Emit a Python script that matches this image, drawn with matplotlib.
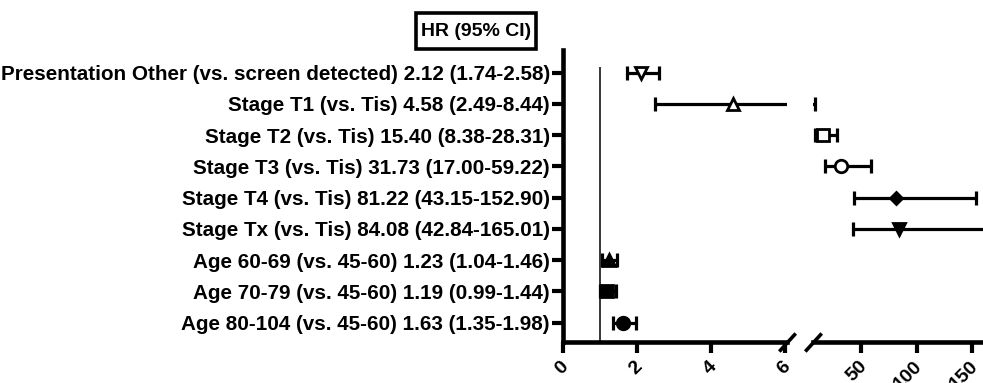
import matplotlib
matplotlib.use("Agg")
import matplotlib.pyplot as plt
import matplotlib.patches as patches
from matplotlib.transforms import ScaledTranslation

plt.rcParams['font.family'] = ['Liberation Sans', 'DejaVu Sans']
plt.rcParams['font.weight'] = 'bold'

# data (top to bottom)
names = [
    "Presentation Other (vs. screen detected)",
    "Stage T1 (vs. Tis)",
    "Stage T2 (vs. Tis)",
    "Stage T3 (vs. Tis)",
    "Stage T4 (vs. Tis)",
    "Stage Tx (vs. Tis)",
    "Age 60-69 (vs. 45-60)",
    "Age 70-79 (vs. 45-60)",
    "Age 80-104 (vs. 45-60)",
]
hr = [2.12, 4.58, 15.40, 31.73, 81.22, 84.08, 1.23, 1.19, 1.63]
ci_low = [1.74, 2.49, 8.38, 17.00, 43.15, 42.84, 1.04, 0.99, 1.35]
ci_high = [2.58, 8.44, 28.31, 59.22, 152.90, 165.01, 1.46, 1.44, 1.98]
markers = ['v', '^', 's', 'o', 'D', 'v', '^', 's', 'o']
filled = [False, False, False, False, True, True, True, True, True]
msizes = [9, 9, 9, 9, 6, 9, 8, 9, 9]

left_ticks = [0, 2, 4, 6]
right_ticks = [50, 100, 150]
left_lim = (0, 6.05)
right_lim = (6.6, 159.6)

labels = [f"{n} {h:.2f} ({l:.2f}-{u:.2f})" for n, h, l, u in zip(names, hr, ci_low, ci_high)]
rows = list(range(len(names)))

W, H = 983, 383
fig = plt.figure(figsize=(W / 100, H / 100), dpi=100)
fig.patch.set_facecolor('white')

bottom = 1 - 341.5 / H
height = (341.5 - 50) / H
ax1 = fig.add_axes([563 / W, bottom, (787 - 563) / W, height])
ax2 = fig.add_axes([813 / W, bottom, 1 - 813 / W, height])

spine_w = 3.3
for ax, lim in ((ax1, left_lim), (ax2, right_lim)):
    ax.set_xlim(*lim)
    for i in rows:
        # whiskers in both panels, clipped by the panel
        ax.errorbar(hr[i], i, xerr=[[hr[i] - ci_low[i]], [ci_high[i] - hr[i]]],
                    fmt='none', ecolor='black', elinewidth=2.3, capsize=4.8,
                    capthick=2.3, zorder=2)
        # point estimate only in the panel that holds it
        if lim[0] <= hr[i] <= lim[1]:
            mfc = 'black' if filled[i] else 'white'
            ax.plot(hr[i], i, marker=markers[i], ms=msizes[i], mfc=mfc,
                    mec='black', mew=2, linestyle='none', zorder=3)
    ax.set_ylim(8.6, -0.72)
    ax.spines['top'].set_visible(False)
    ax.spines['right'].set_visible(False)
    ax.spines['bottom'].set_linewidth(spine_w)
    ax.tick_params(axis='x', length=8, width=3, direction='out', labelsize=14, pad=8)
    ax.set_facecolor('none')

ax1.set_xticks(left_ticks)
ax1.spines['left'].set_linewidth(spine_w)
ax1.set_yticks(rows)
ax1.set_yticklabels(labels, fontsize=14.85, fontweight='bold')
ax1.tick_params(axis='y', length=8, width=3, pad=1.5)
ax1.vlines(1, -0.17, 8.6, color='black', lw=1.1, zorder=1)

ax2.set_xticks(right_ticks)
ax2.spines['left'].set_visible(False)
ax2.tick_params(axis='y', left=False, labelleft=False)

shift = ScaledTranslation(3 / 100, 0, fig.dpi_scale_trans)
for ax in (ax1, ax2):
    for lab in ax.get_xticklabels():
        lab.set_rotation(45)
        lab.set_ha('right')
        lab.set_va('center')
        lab.set_rotation_mode('anchor')
        lab.set_fontweight('bold')
        lab.set_transform(lab.get_transform() + shift)

# axis break marks
slash = dict(marker=[(-1, -1.1), (1, 1.1)], markersize=13, linestyle='none',
             color='black', mec='black', mew=2.6, clip_on=False)
ax1.plot([1], [0], transform=ax1.transAxes, **slash)
ax2.plot([0], [0], transform=ax2.transAxes, **slash)

# boxed header above the labels
fig.text(476 / W, 1 - 31 / H, "HR (95% CI)", ha='center', va='center',
         fontsize=14, fontweight='bold')
fig.patches.append(patches.Rectangle((416 / W, 1 - 49 / H), 120 / W, 36 / H,
                                     transform=fig.transFigure, fill=False,
                                     ec='black', lw=2.6))

fig.savefig('out.png', dpi=100)
